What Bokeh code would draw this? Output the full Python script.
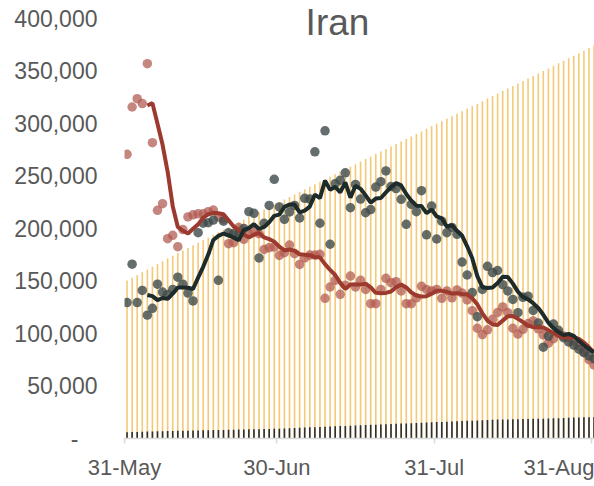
import pandas as pd
from bokeh.plotting import figure
from bokeh.models import FixedTicker, Range1d, Label, DatetimeTickFormatter, ColumnDataSource, NumeralTickFormatter
from bokeh.embed import file_html
from bokeh.resources import INLINE

# ---- data (thousands) ----
start_date = "2021-05-31"
dates = pd.date_range(start_date, periods=93, freq="D")

gray_vals = [129.5, 166, 129.5, 141, 117.5, 124, 147, 139.5, 137, 142,
             153.6, 147, 138.5, 131, 196, 205, 205.5, 208, 150.6, 207,
             196, 195, 195, 200, 216, 214.5, 172, 205, 222, 246.8,
             220.5, 208.7, 215.7, 222, 210, 228.7, 228, 273, 205, 293,
             185, 242.7, 246, 253, 219.8, 242, 228, 215, 218, 239.5,
             244.6, 254.8, 240, 238, 227.8, 204, 223, 216, 236, 194,
             221.4, 190, 207, 196, 201, 194.5, 168, 155.7, 139, 116,
             142, 164, 158, 160, 146.5, 140.5, 132.5, 119.8, 134.5, 135.5,
             122, 110, 87, 97.6, 109, 103, 96, 92, 89, 85,
             81.7, 78.6, 76]

red_vals = [270.6, 315.7, 323.6, 319, 357, 281.7, 217.3, 223.6, 190.3, 193.5,
            182.7, 199, 211, 213, 214, 214, 216, 217.6, 211, 209,
            185.5, 186.5, 201, 189.7, 195, 198, 195, 180, 181.7, 182.3,
            174.4, 177, 184.3, 176, 165.8, 172, 174.7, 174.7, 175.4, 133.5,
            144.3, 150.6, 137.3, 146, 154.7, 144.3, 150.6, 142, 128.4, 128.4,
            142, 152.6, 148.4, 149.4, 140.5, 128.4, 128.4, 134, 145, 142,
            140.5, 142, 133.5, 140.5, 134, 141.5, 138.5, 132, 121.7, 105,
            99, 103.5, 113.5, 120, 125.3, 120, 105, 99.5, 104, 109.5,
            112, 104.5, 98.7, 90.8, 95, 100, 97.6, 96, 93, 88,
            82.5, 75, 70]

orange_vals = [150.5, 153.2, 155.8, 158.4, 161.0, 163.6, 166.2, 168.8, 171.4, 174.0,
               176.5, 179.0, 181.5, 184.0, 186.5, 189.0, 191.5, 194.0, 196.5, 198.9,
               201.3, 203.7, 206.1, 208.5, 210.9, 213.3, 215.7, 218.1, 220.5, 222.9,
               225.3, 227.7, 230.1, 232.5, 234.9, 237.3, 239.7, 242.1, 244.5, 246.9,
               249.3, 251.7, 254.1, 256.5, 258.9, 261.3, 263.7, 266.1, 268.5, 270.9,
               273.3, 275.7, 278.1, 280.5, 282.9, 285.3, 287.7, 290.1, 292.5, 294.9,
               297.3, 299.7, 302.1, 304.5, 306.9, 309.3, 311.7, 314.1, 316.5, 318.9,
               321.3, 323.7, 326.1, 328.5, 330.9, 333.3, 335.7, 338.1, 340.5, 342.9,
               345.3, 347.7, 350.1, 352.5, 354.9, 357.3, 359.7, 362.1, 364.5, 366.9,
               369.3, 371.8, 374.3]

black_vals = [6.0, 6.2, 6.3, 6.5, 6.6, 6.7, 6.9, 7.0, 7.1, 7.2,
              7.3, 7.4, 7.5, 7.6, 7.7, 7.8, 7.9, 8.0, 8.1, 8.2,
              8.3, 8.4, 8.5, 8.6, 8.7, 8.8, 8.9, 9.0, 9.1, 9.2,
              9.4, 9.6, 9.8, 10.0, 10.2, 10.4, 10.6, 10.8, 11.0, 11.2,
              11.4, 11.6, 11.8, 12.0, 12.2, 12.4, 12.6, 12.8, 13.0, 13.2,
              13.4, 13.6, 13.8, 14.0, 14.2, 14.4, 14.6, 14.8, 15.0, 15.2,
              15.4, 15.6, 15.8, 16.0, 16.2, 16.4, 16.6, 16.8, 17.0, 17.2,
              17.4, 17.6, 17.8, 18.0, 18.1, 18.2, 18.3, 18.4, 18.5, 18.6,
              18.7, 18.8, 18.9, 19.0, 19.2, 19.4, 19.6, 19.8, 20.0, 20.1,
              20.2, 20.3, 20.5]

x_tick_dates = ["2021-05-31", "2021-06-30", "2021-07-31", "2021-08-31"]
y_ticks = [0, 50000, 100000, 150000, 200000, 250000, 300000, 350000, 400000]
title_text = "Iran"

# ---- build ----
K = 1000
df = pd.DataFrame({
    "x": dates + pd.Timedelta(hours=12),
    "gray": [v * K for v in gray_vals],
    "red": [v * K for v in red_vals],
    "orange": [v * K for v in orange_vals],
    "black": [v * K for v in black_vals],
})
df["gray_avg"] = df["gray"].rolling(5).mean()
df["red_avg"] = df["red"].rolling(5).mean()
src = ColumnDataSource(df)

DAY = 86400000
x0 = pd.Timestamp(x_tick_dates[0])
x1 = pd.Timestamp(x_tick_dates[-1]) + pd.Timedelta(hours=14)

# frame runs to the top of the canvas so the title (drawn inside it) is not clipped;
# 400,000 then sits 18 px below the top (420 px for 400k, 438 px frame)
y_top = y_ticks[-1] * 438 / 420

p = figure(width=594, height=486, x_axis_type="datetime",
           x_range=Range1d(x0, x1), y_range=Range1d(0, y_top),
           output_backend="svg", toolbar_location=None,
           min_border_left=124, min_border_right=0, min_border_top=0, min_border_bottom=48)
p.outline_line_color = None
p.background_fill_color = "white"
p.border_fill_color = "white"
p.xgrid.visible = False
p.ygrid.visible = False

bw = 0.32 * DAY
p.vbar(x="x", top="orange", width=bw, bottom=0, source=src,
       fill_color="#F1BD57", line_color=None, fill_alpha=0.8)
p.vbar(x="x", top="black", width=bw, bottom=0, source=src,
       fill_color="#2E2E2E", line_color=None)

p.scatter(x="x", y="red", source=src, size=9.5, fill_color="#B0574F",
          fill_alpha=0.72, line_color=None)
p.scatter(x="x", y="gray", source=src, size=9.5, fill_color="#3E4A4A",
          fill_alpha=0.8, line_color=None)

p.line(x="x", y="red_avg", source=src, line_color="#9C3A30", line_width=4)
p.line(x="x", y="gray_avg", source=src, line_color="#1E2B2B", line_width=4)

# axes
FONT = "Liberation Sans"
TXT = "#595959"
tick_ms = [pd.Timestamp(d).value // 10**6 for d in x_tick_dates]
xa = p.xaxis[0]
xa.ticker = FixedTicker(ticks=tick_ms)
xa.formatter = DatetimeTickFormatter(days="%d-%b", months="%d-%b", years="%d-%b",
                                     hours="%d-%b", minutes="%d-%b")
xa.axis_line_color = "#D9D9D9"
xa.axis_line_width = 1.5
xa.major_tick_line_color = "#D9D9D9"
xa.major_tick_line_width = 1.5
xa.major_tick_out = 5
xa.major_tick_in = 0
xa.minor_tick_line_color = None
xa.major_label_text_font = FONT
xa.major_label_text_font_size = "22px"
xa.major_label_text_color = TXT
xa.major_label_standoff = 11

ya = p.yaxis[0]
ya.ticker = FixedTicker(ticks=y_ticks)
ya.formatter = NumeralTickFormatter(format="0,0")
ya.major_label_overrides = {0: "-\u00a0\u00a0\u00a0"}
ya.axis_line_color = None
ya.major_tick_line_color = None
ya.minor_tick_line_color = None
ya.major_tick_out = 0
ya.major_tick_in = 0
ya.major_label_text_font = FONT
ya.major_label_text_font_size = "23px"
ya.major_label_text_color = TXT
ya.major_label_standoff = 27

title = Label(x=213, y=416, x_units="screen", y_units="screen", text=title_text,
              text_font=FONT, text_font_size="37px", text_color=TXT,
              text_align="center", text_baseline="alphabetic")
p.add_layout(title)

open("out.html", "w").write(file_html(p, INLINE))
